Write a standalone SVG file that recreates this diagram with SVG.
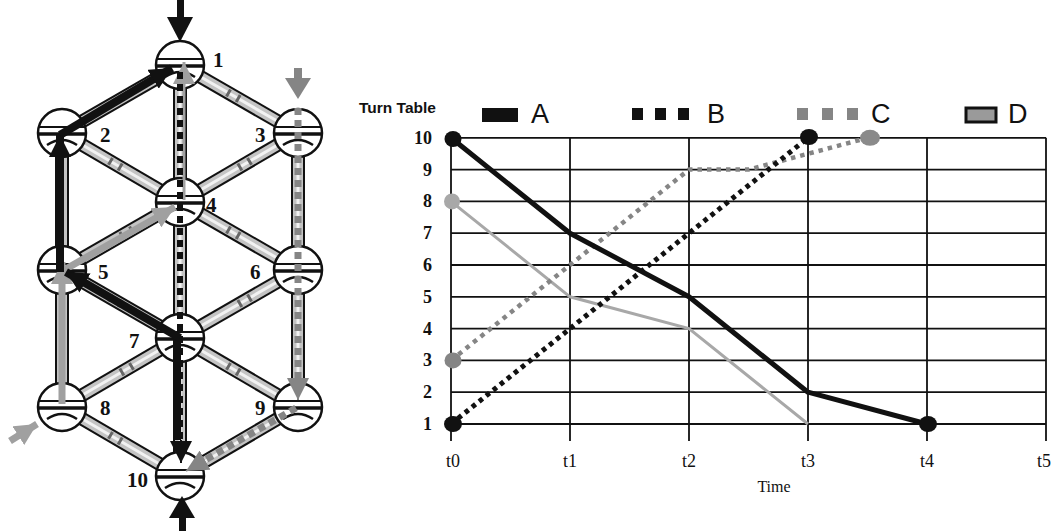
<svg xmlns="http://www.w3.org/2000/svg" width="1052" height="531" viewBox="0 0 1052 531">
<style>
.trk{stroke:#111;stroke-width:14;stroke-linecap:butt}
.trk2{stroke:#c4c4c4;stroke-width:10}
.trk3{stroke:#f2f2f2;stroke-width:3}
.lad{stroke:#666;stroke-width:8;stroke-dasharray:0 40 2.2 6 2.2 100}
.nl{font-family:"Liberation Serif",serif;font-weight:bold;font-size:21px;fill:#111}
.grid{stroke:#111;stroke-width:1.8;fill:none}
.yl{font-family:"Liberation Serif",serif;font-weight:bold;font-size:18px;fill:#111;text-anchor:end}
.xl{font-family:"Liberation Serif",serif;font-size:18px;fill:#111;text-anchor:middle}
.lg{font-family:"Liberation Sans",Arial,sans-serif;font-size:27px;fill:#111}
.A{stroke:#111;stroke-width:5;fill:none;stroke-linejoin:round}
.B{stroke:#111;stroke-width:5;fill:none;stroke-dasharray:4.5 4.5}
.C{stroke:#858585;stroke-width:4.5;fill:none;stroke-dasharray:4.5 5}
.D{stroke:#a8a8a8;stroke-width:3;fill:none}
.ra{stroke:#111;stroke-width:8;fill:none}
.rd{stroke:#a0a0a0;stroke-width:7;fill:none}
.rc{stroke:#858585;stroke-width:7;fill:none;stroke-dasharray:7 5}
.rb{stroke:#111;stroke-width:6;fill:none;stroke-dasharray:7 5}
</style>
<defs>
<marker id="hb" markerUnits="userSpaceOnUse" markerWidth="22" markerHeight="22" refX="22" refY="11" orient="auto" viewBox="0 0 22 22"><path d="M0,0 L22,11 L0,22z" fill="#111"/></marker>
<marker id="hd" markerUnits="userSpaceOnUse" markerWidth="22" markerHeight="22" refX="22" refY="11" orient="auto" viewBox="0 0 22 22"><path d="M0,0 L22,11 L0,22z" fill="#a0a0a0"/></marker>
<marker id="hc" markerUnits="userSpaceOnUse" markerWidth="22" markerHeight="22" refX="22" refY="11" orient="auto" viewBox="0 0 22 22"><path d="M0,0 L22,11 L0,22z" fill="#858585"/></marker>
<g id="tt">
<circle r="24" fill="#fff" stroke="#111" stroke-width="2.5"/>
<line x1="-23" y1="-6" x2="23" y2="-6" stroke="#111" stroke-width="2.2"/>
<line x1="-24" y1="1" x2="24" y2="1" stroke="#111" stroke-width="3.5"/>
<path d="M-15,12 Q0,2 15,12" fill="none" stroke="#111" stroke-width="2.5"/>
</g>
</defs>

<g id="connectors">
<g id="tracks">
<g class="trk">
<line x1="180" y1="65" x2="62" y2="133"/><line x1="180" y1="65" x2="298" y2="133"/><line x1="180" y1="65" x2="180" y2="202"/>
<line x1="62" y1="133" x2="180" y2="202"/><line x1="298" y1="133" x2="180" y2="202"/>
<line x1="62" y1="133" x2="62" y2="270"/><line x1="298" y1="133" x2="298" y2="270"/>
<line x1="180" y1="202" x2="62" y2="270"/><line x1="180" y1="202" x2="298" y2="270"/><line x1="180" y1="202" x2="180" y2="338"/>
<line x1="62" y1="270" x2="180" y2="338"/><line x1="298" y1="270" x2="180" y2="338"/>
<line x1="62" y1="270" x2="62" y2="407"/><line x1="298" y1="270" x2="298" y2="407"/>
<line x1="180" y1="338" x2="62" y2="407"/><line x1="180" y1="338" x2="298" y2="407"/><line x1="180" y1="338" x2="180" y2="476"/>
<line x1="62" y1="407" x2="180" y2="476"/><line x1="298" y1="407" x2="180" y2="476"/>
</g>
<g class="trk2">
<line x1="180" y1="65" x2="62" y2="133"/><line x1="180" y1="65" x2="298" y2="133"/><line x1="180" y1="65" x2="180" y2="202"/>
<line x1="62" y1="133" x2="180" y2="202"/><line x1="298" y1="133" x2="180" y2="202"/>
<line x1="62" y1="133" x2="62" y2="270"/><line x1="298" y1="133" x2="298" y2="270"/>
<line x1="180" y1="202" x2="62" y2="270"/><line x1="180" y1="202" x2="298" y2="270"/><line x1="180" y1="202" x2="180" y2="338"/>
<line x1="62" y1="270" x2="180" y2="338"/><line x1="298" y1="270" x2="180" y2="338"/>
<line x1="62" y1="270" x2="62" y2="407"/><line x1="298" y1="270" x2="298" y2="407"/>
<line x1="180" y1="338" x2="62" y2="407"/><line x1="180" y1="338" x2="298" y2="407"/><line x1="180" y1="338" x2="180" y2="476"/>
<line x1="62" y1="407" x2="180" y2="476"/><line x1="298" y1="407" x2="180" y2="476"/>
</g>
<g class="trk3">
<line x1="180" y1="65" x2="62" y2="133"/><line x1="180" y1="65" x2="298" y2="133"/><line x1="180" y1="65" x2="180" y2="202"/>
<line x1="62" y1="133" x2="180" y2="202"/><line x1="298" y1="133" x2="180" y2="202"/>
<line x1="62" y1="133" x2="62" y2="270"/><line x1="298" y1="133" x2="298" y2="270"/>
<line x1="180" y1="202" x2="62" y2="270"/><line x1="180" y1="202" x2="298" y2="270"/><line x1="180" y1="202" x2="180" y2="338"/>
<line x1="62" y1="270" x2="180" y2="338"/><line x1="298" y1="270" x2="180" y2="338"/>
<line x1="62" y1="270" x2="62" y2="407"/><line x1="298" y1="270" x2="298" y2="407"/>
<line x1="180" y1="338" x2="62" y2="407"/><line x1="180" y1="338" x2="298" y2="407"/><line x1="180" y1="338" x2="180" y2="476"/>
<line x1="62" y1="407" x2="180" y2="476"/><line x1="298" y1="407" x2="180" y2="476"/>
</g>
<g class="lad">
<line pathLength="100" x1="180" y1="65" x2="298" y2="133"/>
<line pathLength="100" x1="62" y1="133" x2="180" y2="202"/><line pathLength="100" x1="298" y1="133" x2="180" y2="202"/>
<line pathLength="100" x1="180" y1="202" x2="62" y2="270"/><line pathLength="100" x1="180" y1="202" x2="298" y2="270"/>
<line pathLength="100" x1="62" y1="270" x2="180" y2="338"/><line pathLength="100" x1="298" y1="270" x2="180" y2="338"/>
<line pathLength="100" x1="180" y1="338" x2="62" y2="407"/><line pathLength="100" x1="180" y1="338" x2="298" y2="407"/>
<line pathLength="100" x1="62" y1="407" x2="180" y2="476"/>
</g>
</g>
</g>

<g id="node1"><use href="#tt" x="180" y="65"/><text class="nl" x="213" y="67">1</text></g>
<g id="node2"><use href="#tt" x="62" y="133"/><text class="nl" x="100" y="142">2</text></g>
<g id="node3"><use href="#tt" x="298" y="133"/><text class="nl" x="255" y="142">3</text></g>
<g id="node4"><use href="#tt" x="180" y="202"/><text class="nl" x="206" y="212">4</text></g>
<g id="node5"><use href="#tt" x="62" y="270"/><text class="nl" x="98" y="279">5</text></g>
<g id="node6"><use href="#tt" x="298" y="270"/><text class="nl" x="250" y="279">6</text></g>
<g id="node7"><use href="#tt" x="180" y="338"/><text class="nl" x="129" y="348">7</text></g>
<g id="node8"><use href="#tt" x="62" y="407"/><text class="nl" x="100" y="415">8</text></g>
<g id="node9"><use href="#tt" x="298" y="407"/><text class="nl" x="255" y="415">9</text></g>
<g id="node10"><use href="#tt" x="180" y="476"/><text class="nl" x="127" y="487">10</text></g>

<g id="routes">
<line class="rd" x1="184" y1="200" x2="184" y2="62" style="stroke-width:3" marker-end="url(#hd)"/>
<line class="rb" x1="180" y1="72" x2="180" y2="440"/>
<line class="rc" x1="298" y1="108" x2="298" y2="385"/>
<line x1="298" y1="380" x2="298" y2="400" stroke="#858585" stroke-width="2" marker-end="url(#hc)"/>
<line class="rc" x1="296" y1="408" x2="198" y2="464"/>
<line x1="200" y1="463" x2="186" y2="471" stroke="#858585" stroke-width="2" marker-end="url(#hc)"/>
<line class="rd" x1="62" y1="404" x2="62" y2="262" marker-end="url(#hd)"/>
<line class="rd" x1="64" y1="270" x2="175" y2="207" marker-end="url(#hd)"/>
<line class="rd" x1="10" y1="441" x2="37" y2="424" marker-end="url(#hd)"/>
<line class="ra" x1="177" y1="340" x2="177" y2="440"/>
<line x1="181" y1="440" x2="181" y2="463" stroke="#111" stroke-width="2" marker-end="url(#hb)"/>
<line class="ra" x1="180" y1="338" x2="66" y2="272" marker-end="url(#hb)"/>
<line class="ra" x1="60" y1="272" x2="60" y2="135" marker-end="url(#hb)"/>
<line class="ra" x1="60" y1="135" x2="172" y2="68" marker-end="url(#hb)"/>
<rect x="177" y="0" width="7" height="20" fill="#111"/>
<path d="M167,17 L193,17 L180,42z" fill="#111"/>
<rect x="179" y="512" width="7" height="19" fill="#111"/>
<path d="M169,518 L195,518 L182,496z" fill="#111"/>
<rect x="294" y="68" width="8" height="12" fill="#858585"/>
<path d="M285,78 L311,78 L298,99z" fill="#858585"/>
</g>

<g id="chart">
<g class="grid">
<line x1="451" y1="137.8" x2="1046" y2="137.8"/>
<line x1="451" y1="169.6" x2="1046" y2="169.6"/>
<line x1="451" y1="201.4" x2="1046" y2="201.4"/>
<line x1="451" y1="233.2" x2="1046" y2="233.2"/>
<line x1="451" y1="265" x2="1046" y2="265"/>
<line x1="451" y1="296.8" x2="1046" y2="296.8"/>
<line x1="451" y1="328.6" x2="1046" y2="328.6"/>
<line x1="451" y1="360.4" x2="1046" y2="360.4"/>
<line x1="451" y1="392.2" x2="1046" y2="392.2"/>
<line x1="451" y1="424" x2="1046" y2="424"/>
<line x1="451" y1="137.8" x2="451" y2="441"/>
<line x1="570" y1="137.8" x2="570" y2="441"/>
<line x1="689" y1="137.8" x2="689" y2="441"/>
<line x1="808" y1="137.8" x2="808" y2="441"/>
<line x1="927" y1="137.8" x2="927" y2="441"/>
<line x1="1046" y1="137.8" x2="1046" y2="441"/>
</g>
<text x="359" y="113" font-family="Liberation Sans,Arial,sans-serif" font-weight="bold" font-size="15.5" fill="#111">Turn Table</text>
<text class="yl" x="432" y="144">10</text>
<text class="yl" x="432" y="176">9</text>
<text class="yl" x="432" y="207">8</text>
<text class="yl" x="432" y="239">7</text>
<text class="yl" x="432" y="271">6</text>
<text class="yl" x="432" y="303">5</text>
<text class="yl" x="432" y="335">4</text>
<text class="yl" x="432" y="366">3</text>
<text class="yl" x="432" y="398">2</text>
<text class="yl" x="432" y="430">1</text>
<text class="xl" x="453" y="467">t0</text>
<text class="xl" x="570" y="467">t1</text>
<text class="xl" x="689" y="467">t2</text>
<text class="xl" x="808" y="467">t3</text>
<text class="xl" x="927" y="467">t4</text>
<text class="xl" x="1044" y="467">t5</text>
<text class="xl" x="774" y="492" style="font-size:16px">Time</text>

<g id="legend">
<rect x="482" y="108" width="36" height="14" fill="#111"/>
<text class="lg" x="531" y="123">A</text>
<rect x="632" y="108" width="11" height="12" fill="#111"/>
<rect x="655" y="108" width="11" height="12" fill="#111"/>
<rect x="678" y="108" width="11" height="12" fill="#111"/>
<text class="lg" x="707" y="123">B</text>
<rect x="797" y="108" width="11" height="12" fill="#858585"/>
<rect x="822" y="108" width="11" height="12" fill="#858585"/>
<rect x="847" y="108" width="11" height="12" fill="#858585"/>
<text class="lg" x="871" y="123">C</text>
<rect x="966" y="108" width="30" height="14" fill="#9a9a9a" stroke="#111" stroke-width="3"/>
<text class="lg" x="1008" y="123">D</text>
</g>

<polyline class="D" points="451,201.4 570,296.8 689,328.6 808,424"/>
<polyline class="C" points="451,360.4 689,169.6 748.5,169.6 868,137.8"/>
<polyline class="B" points="451,424 808,137.8"/>
<polyline class="A" points="451,137.8 570,233.2 689,296.8 808,392.2 927,424"/>
<ellipse cx="452" cy="201.4" rx="8" ry="8" fill="#a8a8a8"/>
<ellipse cx="453" cy="360.4" rx="8.5" ry="8" fill="#858585"/>
<ellipse cx="870" cy="137.8" rx="10" ry="8" fill="#8a8a8a"/>
<ellipse cx="453" cy="424" rx="9" ry="8" fill="#111"/>
<ellipse cx="809" cy="137" rx="9" ry="8" fill="#111"/>
<ellipse cx="453" cy="139" rx="8.5" ry="8" fill="#111"/>
<ellipse cx="928" cy="424" rx="9" ry="8" fill="#111"/>
</g>
</svg>
